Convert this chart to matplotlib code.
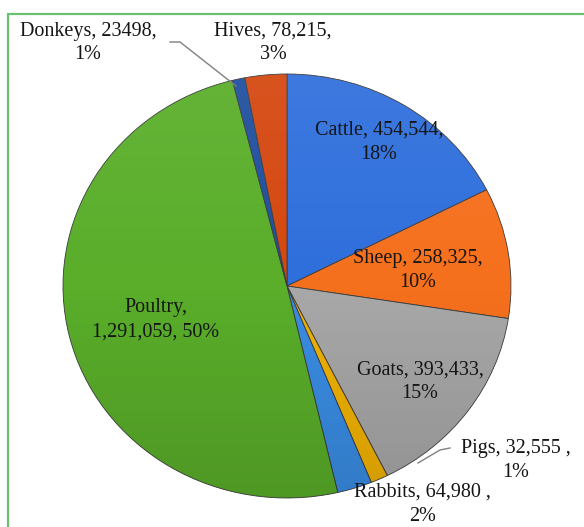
import numpy as np
import matplotlib.pyplot as plt
from matplotlib.patches import Rectangle, Ellipse

# livestock counts, clockwise from 12 o'clock
animals = ['Cattle', 'Sheep', 'Goats', 'Pigs', 'Rabbits', 'Poultry', 'Donkeys', 'Hives']
counts = [454544, 258325, 393433, 32555, 64980, 1291059, 23498, 78215]
count_text = ['454,544', '258,325', '393,433', '32,555', '64,980', '1,291,059', '23498', '78,215']
pcts = [18, 10, 15, 1, 2, 50, 1, 3]

colors = ['#2f6fdc', '#f5701d', '#a8a8a8', '#f2b300', '#3a8de4', '#5aae2a', '#1f4f9e', '#d5470f']

labels = []
for name, txt, p in zip(animals, count_text, pcts):
    if name in ('Pigs', 'Rabbits'):
        labels.append(f'{name}, {txt} ,\n{p}%')
    elif name == 'Poultry':
        labels.append(f'{name},\n{txt}, {p}%')
    else:
        labels.append(f'{name}, {txt},\n{p}%')

# label anchor points (data units, pie radius = 1)
label_pos = [(0.411, 0.679), (0.585, 0.071), (0.594, -0.453), (1.022, -0.825),
             (0.603, -1.030), (-0.585, -0.160), (-0.888, 1.146), (-0.0625, 1.146)]

W, H = 584, 527
fig = plt.figure(figsize=(W / 100, H / 100), dpi=100)
plt.rcParams['font.family'] = ['Liberation Serif', 'DejaVu Serif']

# green frame round the chart area
fig.patches.append(Rectangle((8 / W, -0.05), 1.1, (H - 14) / H + 0.05, transform=fig.transFigure,
                             fill=False, edgecolor='#6cc070', linewidth=1.6))

ax = fig.add_axes([63 / W, (H - 498) / H, 448 / W, 424 / H])
wedges, _ = ax.pie(counts, colors=colors, startangle=90, counterclock=False, radius=1,
                   wedgeprops=dict(edgecolor='#3a3a3a', linewidth=0.6))
ax.set_aspect('auto')
ax.set_xlim(-1, 1)
ax.set_ylim(-1, 1)

# soft shading: lighter at the top, darker toward the bottom
grad = np.linspace(1, 0, 256).reshape(-1, 1)
shade = np.zeros((256, 1, 4))
shade[..., :3] = np.where(grad[..., None] > 0.5, 1.0, 0.0)
shade[..., 3] = np.where(grad > 0.5, (grad - 0.5) * 0.14, (0.5 - grad) * 0.26)
clip = Ellipse((0, 0), 2, 2, transform=ax.transData)
im = ax.imshow(shade, extent=(-1, 1, -1, 1), aspect='auto', zorder=3, interpolation='bilinear')
im.set_clip_path(clip)

for lab, (x, y) in zip(labels, label_pos):
    ax.text(x, y, lab, ha='center', va='center', fontsize=14.5, color='#151515',
            linespacing=1.35, zorder=5)


def px(p):
    return ((p[0] - 287) / 224, (286 - p[1]) / 212)


# leader lines for the thin slices
for pts in ([(170, 42), (180, 42), (236, 86)], [(450, 448), (440, 450), (418, 463)]):
    xy = np.array([px(p) for p in pts])
    ax.plot(xy[:, 0], xy[:, 1], color='#808080', lw=1.0, clip_on=False, zorder=4)

fig.savefig('out.png', dpi=100)
